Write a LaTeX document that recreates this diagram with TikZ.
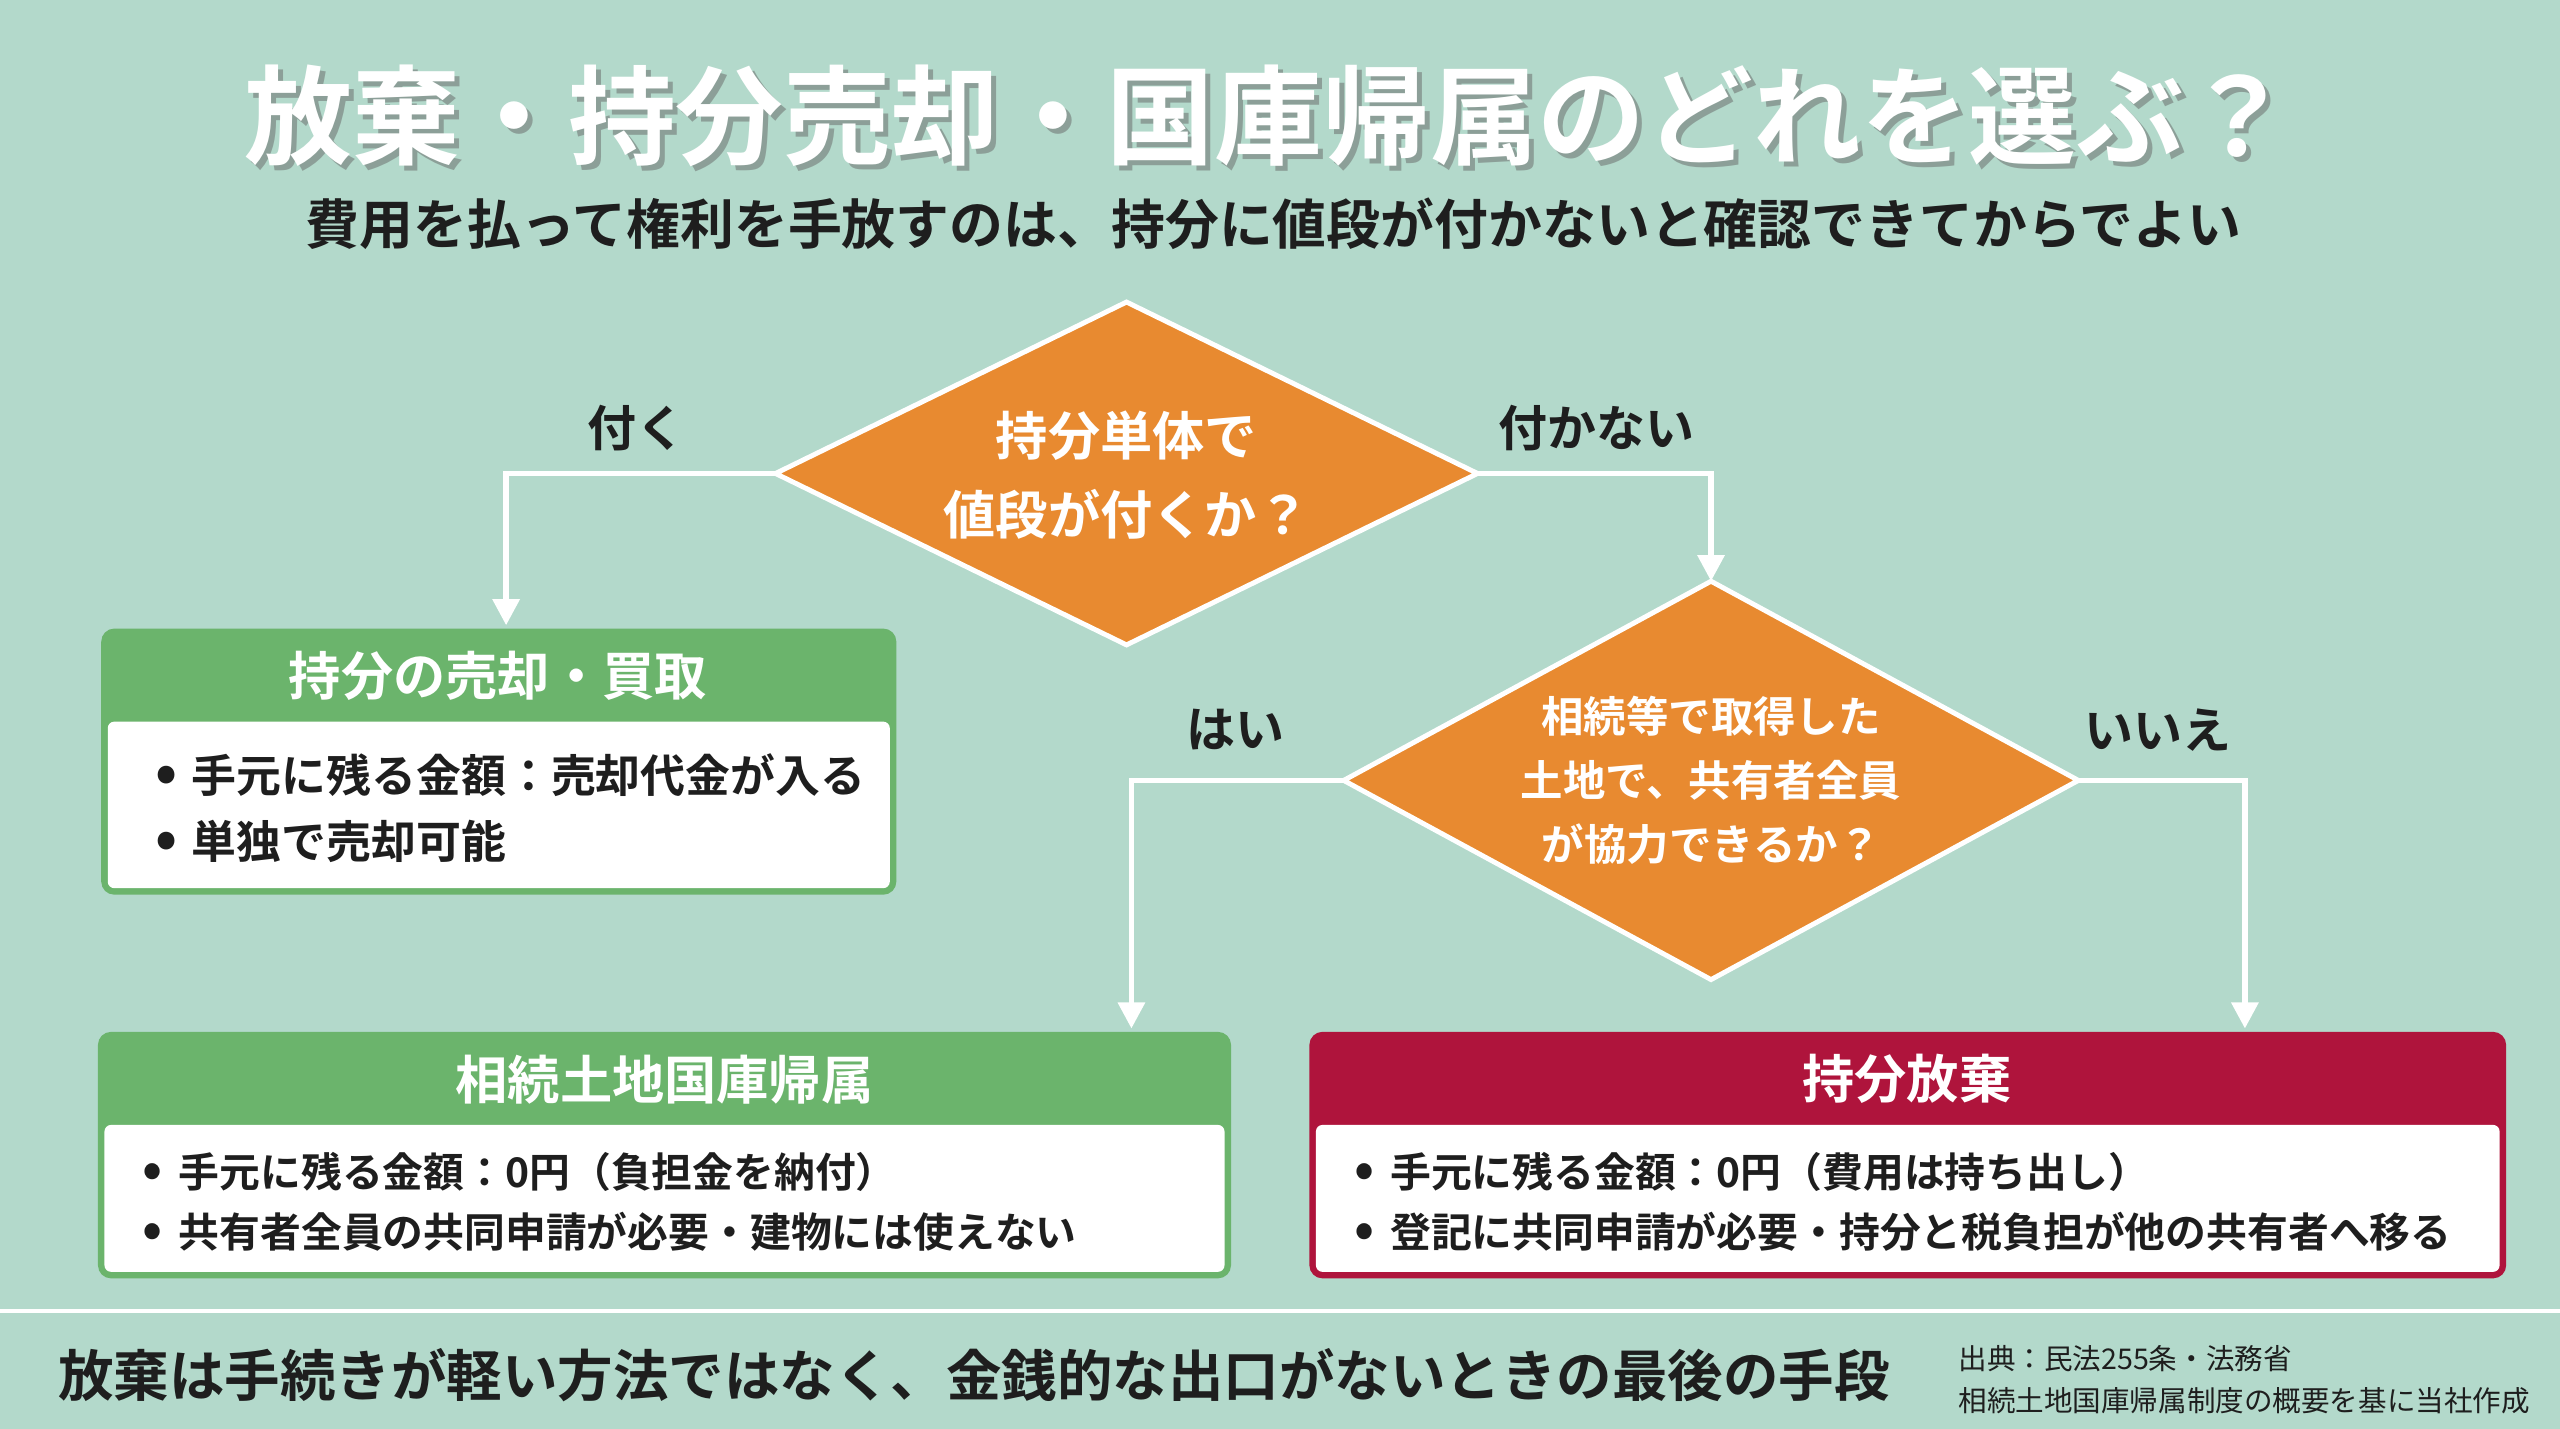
\documentclass[tikz,border=0pt]{standalone}
\usepackage{fontspec}
\setmainfont{Noto Sans CJK JP}[BoldFont={Noto Sans CJK JP Bold}]
\usetikzlibrary{shapes.geometric,arrows.meta}
\definecolor{bg}{HTML}{B3D9CB}
\definecolor{og}{HTML}{E88A30}
\definecolor{gr}{HTML}{6BB46C}
\definecolor{rd}{HTML}{AF143C}
\definecolor{tx}{HTML}{1E1E1E}
\newcommand{\bu}{\makebox[22pt][l]{\scalebox{1.3}{•}}}
\begin{document}
\begin{tikzpicture}[x=1pt,y=-1pt,font=\bfseries,
 flow/.style={draw=white,line width=3.5pt,-{Triangle[length=16pt,width=16pt]}},
 lab/.style={text=tx,font=\bfseries\fontsize{30}{34}\selectfont},
 bul/.style={anchor=west,text=tx,align=left,font=\bfseries\fontsize{25}{37}\selectfont},
 head/.style={text=white,font=\bfseries\fontsize{32}{36}\selectfont}]
\fill[bg] (0,0) rectangle (1568,875);
\useasboundingbox (0,0) rectangle (1568,875);
\node[text=black!60,opacity=.5,font=\bfseries\fontsize{66}{70}\selectfont] at (780,74) {放棄・持分売却・国庫帰属のどれを選ぶ？};
\node (title) [text=white,font=\bfseries\fontsize{66}{70}\selectfont] at (777,71) {放棄・持分売却・国庫帰属のどれを選ぶ？};
\node (sub) [text=tx,font=\bfseries\fontsize{33}{36}\selectfont] at (780,137) {費用を払って権利を手放すのは、持分に値段が付かないと確認できてからでよい};
% diamonds
\draw[white,line width=3pt,fill=og] (475,290) -- (690,185) -- (905,290) -- (690,395) -- cycle;
\node (d1) [text=white,align=center,font=\bfseries\fontsize{32}{48}\selectfont] at (690,291) {持分単体で\\値段が付くか？};
\coordinate (d1l) at (475,290); \coordinate (d1r) at (905,290);
\draw[white,line width=3pt,fill=og] (823,478) -- (1048,356) -- (1273,478) -- (1048,600) -- cycle;
\node (d2) [text=white,align=center,font=\bfseries\fontsize{26}{39}\selectfont] at (1048,478) {相続等で取得した\\土地で、共有者全員\\が協力できるか？};
\coordinate (d2l) at (823,478); \coordinate (d2r) at (1273,478); \coordinate (d2t) at (1048,356);
% boxes
\fill[gr,rounded corners=8] (62,385) rectangle (549,548);
\fill[white,rounded corners=4] (66,442) rectangle (545,544);
\node (h1) [head] at (305,414) {持分の売却・買取};
\node (b1) [bul,font=\bfseries\fontsize{27.5}{40}\selectfont] at (92,495) {\bu 手元に残る金額：売却代金が入る\\\bu 単独で売却可能};
\fill[gr,rounded corners=8] (60,632) rectangle (754,783);
\fill[white,rounded corners=4] (64,689) rectangle (750,779);
\node (h2) [head] at (407,661) {相続土地国庫帰属};
\node (b2) [bul] at (84,736) {\bu 手元に残る金額：0円（負担金を納付）\\\bu 共有者全員の共同申請が必要・建物には使えない};
\fill[rd,rounded corners=8] (802,632) rectangle (1535,783);
\fill[white,rounded corners=4] (806,689) rectangle (1531,779);
\node (h3) [head] at (1168,661) {持分放棄};
\node (b3) [bul] at (826,736) {\bu 手元に残る金額：0円（費用は持ち出し）\\\bu 登記に共同申請が必要・持分と税負担が他の共有者へ移る};
\coordinate (t1) at (310,383); \coordinate (t2) at (693,630); \coordinate (t3) at (1375,630);
% connectors
\draw[flow] (d1l) -- (310,290) -- (t1);
\draw[flow] (d1r) -- (1048,290) -- (d2t);
\draw[flow] (d2l) -- (693,478) -- (t2);
\draw[flow] (d2r) -- (1375,478) -- (t3);
\node (l1) [lab] at (390,262) {付く};
\node (l2) [lab] at (978,262) {付かない};
\node (l3) [lab] at (757,447) {はい};
\node (l4) [lab] at (1322,447) {いいえ};
% footer
\draw[white,line width=3pt] (0,803) -- (1568,803);
\node (foot) [anchor=west,text=tx,font=\bfseries\fontsize{34}{37}\selectfont] at (32,842) {放棄は手続きが軽い方法ではなく、金銭的な出口がないときの最後の手段};
\node (src) [anchor=west,text=tx,align=left,font=\fontsize{17.5}{26}\selectfont] at (1196,845) {出典：民法255条・法務省\\相続土地国庫帰属制度の概要を基に当社作成};
\end{tikzpicture}
\end{document}
